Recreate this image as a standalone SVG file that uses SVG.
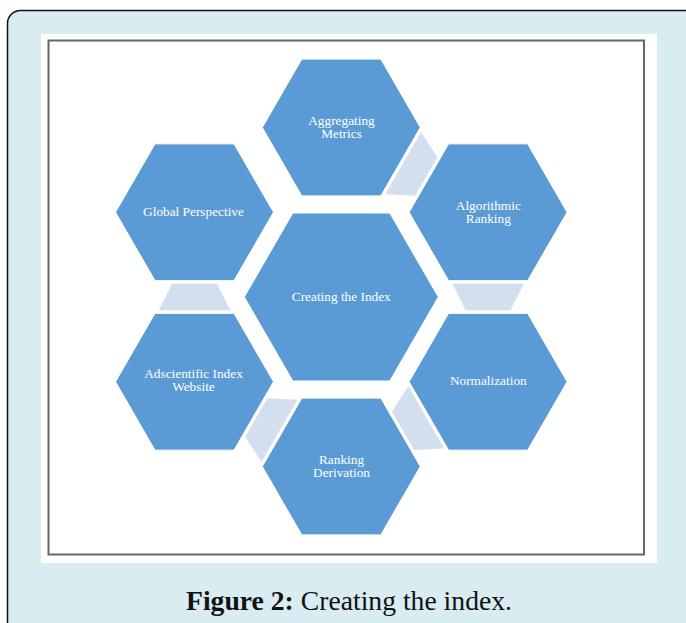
<svg xmlns="http://www.w3.org/2000/svg" xmlns:xlink="http://www.w3.org/1999/xlink" width="686" height="623" viewBox="0 0 686 623">
  <style>
    .hex { fill: #5b9bd5; stroke: #ffffff; stroke-width: 1; }
    .link { fill: #d3deef; stroke: #ffffff; stroke-width: 0.8; }
    .lbl { font-family: "Liberation Serif", "Times New Roman", serif; font-size: 13.3px; fill: #ffffff; text-anchor: middle; }
    .cap { font-family: "Liberation Serif", "Times New Roman", serif; font-size: 26.5px; fill: #111111; }
  </style>
  <defs>
    <!-- flat-top hexagons centred on the origin -->
    <polygon id="hexS" points="-79,0 -39.5,-68.4 39.5,-68.4 79,0 39.5,68.4 -39.5,68.4"/>
    <polygon id="hexL" points="-97,0 -48.5,-84 48.5,-84 97,0 48.5,84 -48.5,84"/>
    <!-- tapered connector, pointing along +x (wide end at the source) -->
    <polygon id="taper" points="-13.8,-36.5 13.8,-22.5 13.8,22.5 -13.8,36.5"/>
  </defs>

  <!-- page panel -->
  <rect x="7.5" y="10.5" width="700" height="640" rx="13" ry="13" fill="#d8ecf1" stroke="#111111" stroke-width="1.5"/>
  <rect x="41" y="34" width="616" height="529" fill="#ffffff"/>
  <rect x="48.5" y="40.5" width="595.5" height="514" fill="#ffffff" stroke="#666666" stroke-width="2"/>

  <!-- connectors between neighbouring outer hexagons -->
  <g id="connectors">
    <use xlink:href="#taper" class="link" transform="translate(414.7,169.9) rotate(30)"/>
    <use xlink:href="#taper" class="link" transform="translate(488.1,297) rotate(90)"/>
    <use xlink:href="#taper" class="link" transform="translate(414.7,424.1) rotate(150)"/>
    <use xlink:href="#taper" class="link" transform="translate(267.9,424.1) rotate(210)"/>
    <use xlink:href="#taper" class="link" transform="translate(194.5,297) rotate(270)"/>
  </g>

  <g id="creating-index">
    <use xlink:href="#hexL" class="hex" transform="translate(341.3,297)"/>
    <text class="lbl" x="341.3" y="301.4">Creating the Index</text>
  </g>

  <g id="aggregating-metrics">
    <use xlink:href="#hexS" class="hex" transform="translate(341.3,127.5)"/>
    <text class="lbl" x="341.5" y="124.6">Aggregating</text>
    <text class="lbl" x="341.5" y="138.2">Metrics</text>
  </g>

  <g id="algorithmic-ranking">
    <use xlink:href="#hexS" class="hex" transform="translate(488.1,212.25)"/>
    <text class="lbl" x="488.3" y="209.5">Algorithmic</text>
    <text class="lbl" x="488.3" y="223.1">Ranking</text>
  </g>

  <g id="normalization">
    <use xlink:href="#hexS" class="hex" transform="translate(488.1,381.75)"/>
    <text class="lbl" x="488.3" y="385">Normalization</text>
  </g>

  <g id="ranking-derivation">
    <use xlink:href="#hexS" class="hex" transform="translate(341.3,466.5)"/>
    <text class="lbl" x="341.5" y="463.5">Ranking</text>
    <text class="lbl" x="341.5" y="477.1">Derivation</text>
  </g>

  <g id="adscientific-website">
    <use xlink:href="#hexS" class="hex" transform="translate(194.5,381.75)"/>
    <text class="lbl" x="193.5" y="377.7">Adscientific Index</text>
    <text class="lbl" x="193.5" y="391.3">Website</text>
  </g>

  <g id="global-perspective">
    <use xlink:href="#hexS" class="hex" transform="translate(194.5,212.25)"/>
    <text class="lbl" x="193.5" y="216">Global Perspective</text>
  </g>

  <!-- caption -->
  <text class="cap" x="186" y="610" textLength="326" lengthAdjust="spacingAndGlyphs"><tspan font-weight="bold">Figure 2:</tspan> Creating the index.</text>
</svg>
